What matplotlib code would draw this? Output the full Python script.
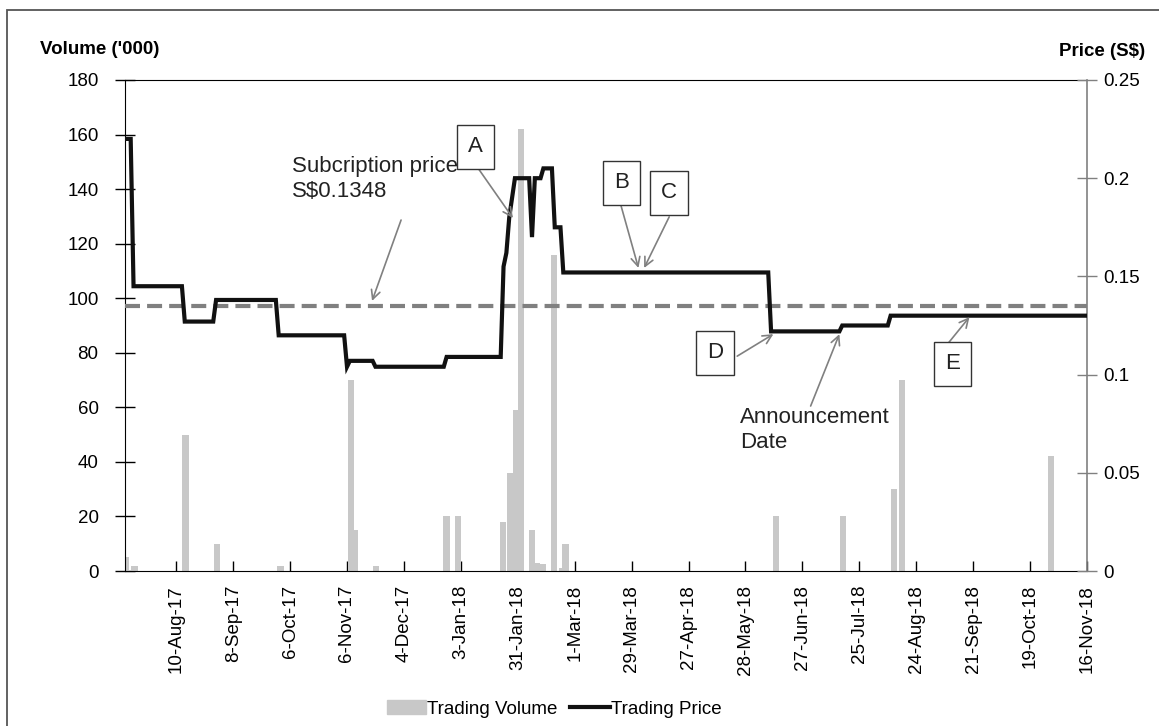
import numpy as np
import matplotlib
matplotlib.use("Agg")
import matplotlib.pyplot as plt
from matplotlib.patches import Rectangle, Patch
from matplotlib.lines import Line2D

plt.rcParams['font.family'] = ['Liberation Sans', 'DejaVu Sans']

# x axis is a trading-day index (0 = first day shown)
n_days = 339
tick_days = np.arange(18, n_days, 20)
tick_labels = ['10-Aug-17', '8-Sep-17', '6-Oct-17', '6-Nov-17', '4-Dec-17', '3-Jan-18',
               '31-Jan-18', '1-Mar-18', '29-Mar-18', '27-Apr-18', '28-May-18', '27-Jun-18',
               '25-Jul-18', '24-Aug-18', '21-Sep-18', '19-Oct-18', '16-Nov-18']

# trading volume ('000) on given days
vol_day = [0.4, 3.3, 21.3, 32.4, 54.6, 79.3, 80.8, 88.3, 113, 117.1, 132.8, 135.2, 137.5,
           139.1, 143, 144.6, 146.9, 150.7, 153.5, 154.8, 228.6, 252.2, 270.2, 273.1, 325.4]
vol_value = [5, 2, 50, 10, 2, 70, 15, 2, 20, 20, 18, 36, 59,
             162, 15, 3, 2.5, 116, 1, 10, 20, 20, 30, 70, 42]

# closing price (S$): level held from the given day onwards
price_start = [0, 3, 21, 32, 54, 78, 79, 88, 113, 133, 134, 135, 136, 137, 143, 144,
               147, 151, 154, 227, 252, 269]
price_level = [0.22, 0.145, 0.127, 0.138, 0.12, 0.104, 0.107, 0.104, 0.109, 0.155, 0.162,
               0.18, 0.19, 0.2, 0.17, 0.2, 0.205, 0.175, 0.152, 0.122, 0.125, 0.13]
sub_price = 0.1348

runs = np.diff(price_start + [n_days])
price = np.repeat(price_level, runs)
days = np.arange(n_days)

fig = plt.figure(figsize=(11.59, 7.26), dpi=100)
ax = fig.add_axes([125 / 1159, 155 / 726, 962 / 1159, 491 / 726])
ax2 = ax.twinx()

ax.bar(vol_day, vol_value, width=2.2, color='#c8c8c8', zorder=2)
ax2.plot(days, price, color='#111111', lw=3.0, solid_joinstyle='miter', zorder=4)
ax2.axhline(sub_price, color='#808080', lw=3.0, linestyle=(0, (3.6, 1.7)), zorder=3)

ax.set_xlim(0, n_days - 1)
ax.set_ylim(0, 180)
ax.set_yticks(np.arange(0, 181, 20))
ax2.set_ylim(0, 0.25)
ax2.set_yticks([0, 0.05, 0.1, 0.15, 0.2, 0.25])
ax2.set_yticklabels(['0', '0.05', '0.1', '0.15', '0.2', '0.25'])
ax.set_xticks(tick_days)
ax.set_xticklabels(tick_labels, rotation=90)

ax.tick_params(axis='y', direction='inout', length=14, width=1, pad=12, labelsize=13.5)
ax2.tick_params(axis='y', direction='inout', length=14, width=1, pad=5, labelsize=13.5,
                color='#808080')
ax.tick_params(axis='x', direction='in', length=7, width=1, pad=10, labelsize=13.5)
for s in ['left', 'bottom', 'top']:
    ax.spines[s].set_color('black')
    ax2.spines[s].set_visible(False)
ax.spines['right'].set_visible(False)
ax2.spines['right'].set_color('#808080')
ax2.spines['right'].set_linewidth(1.2)

fig.text(40 / 1159, 1 - 50 / 726, "Volume ('000)", weight='bold', fontsize=13.5,
         ha='left', va='center')
fig.text(1145 / 1159, 1 - 52 / 726, "Price (S$)", weight='bold', fontsize=13.5,
         ha='right', va='center')

# annotations (in price-axis units)
arrow = dict(arrowstyle='->', color='#808080', lw=1.2, shrinkA=0, shrinkB=0,
             mutation_scale=16)
box = dict(boxstyle='square,pad=0.5', fc='white', ec='#333333', lw=1.0)

ax2.text(58.7, 0.2115, 'Subcription price\nS$0.1348', fontsize=16, color='#222222',
         ha='left', va='top', linespacing=1.3)
ax2.annotate('', xy=(86.8, 0.1375), xytext=(97, 0.1787), arrowprops=arrow)

ax2.text(216, 0.0835, 'Announcement\nDate', fontsize=16, color='#222222',
         ha='left', va='top', linespacing=1.25)
ax2.annotate('', xy=(251, 0.1206), xytext=(240.9, 0.084), arrowprops=arrow)

boxes = [('A', (123, 0.2159), (124, 0.2052), (136.3, 0.1797)),
         ('B', (174.6, 0.1976), (174.2, 0.1864), (180.4, 0.1543)),
         ('C', (191.1, 0.1925), (191.2, 0.1803), (182.4, 0.1543)),
         ('D', (207.3, 0.111), (215.1, 0.1094), (227.8, 0.1206)),
         ('E', (290.6, 0.1054), (289.3, 0.1161), (296.7, 0.1293))]
for label, pos, start, tip in boxes:
    ax2.annotate('', xy=tip, xytext=start, arrowprops=arrow, zorder=5)
    ax2.text(pos[0], pos[1], label, fontsize=16, color='#222222', ha='center',
             va='center', bbox=box, zorder=6)

handles = [Patch(color='#c8c8c8'), Line2D([0], [0], color='#111111', lw=3)]
fig.legend(handles, ['Trading Volume', 'Trading Price'], loc='center',
           bbox_to_anchor=(554 / 1159, 1 - 709 / 726), ncol=2, frameon=False,
           fontsize=13.5, handlelength=2.1, handletextpad=0.05, columnspacing=0.7)

# outer chart border
fig.add_artist(Rectangle((7 / 1159, -0.1), 1.2, 1 - 10 / 726 + 0.1,
                         transform=fig.transFigure, fill=False, ec='#555555', lw=1.3))

fig.savefig('out.png', dpi=100)
